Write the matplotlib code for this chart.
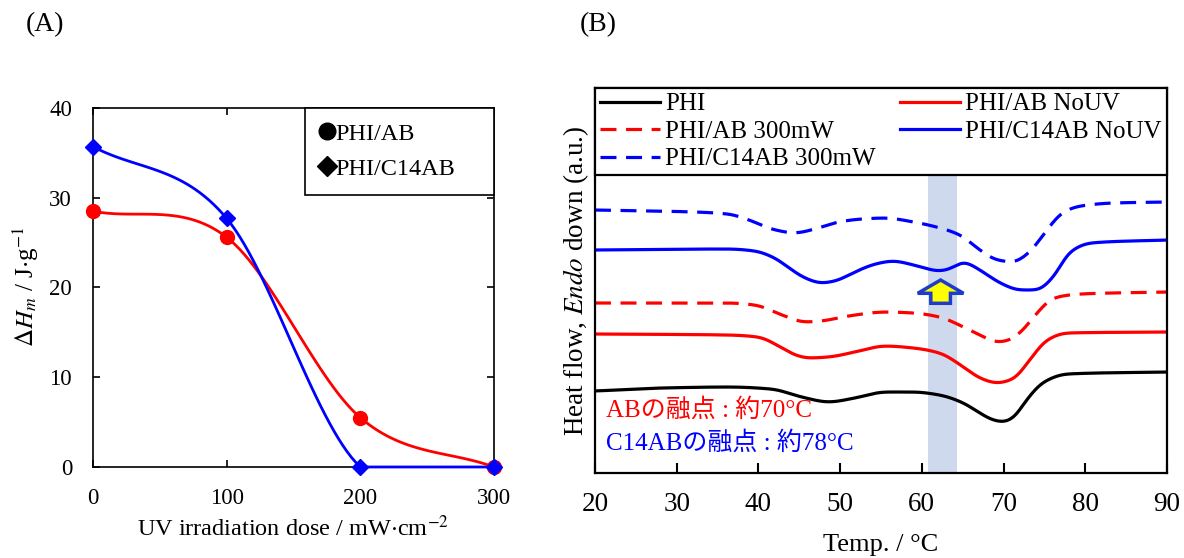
import numpy as np
import matplotlib
matplotlib.use("Agg")
import matplotlib.pyplot as plt
from matplotlib.lines import Line2D
from matplotlib.patches import FancyArrow

plt.rcParams['font.family'] = ['Liberation Serif', 'Noto Sans CJK JP', 'DejaVu Sans']
plt.rcParams['mathtext.fontset'] = 'stix'

# (A) melting enthalpy vs UV dose
dose = [0, 100, 200, 300]
dh_ab = [28.5, 25.6, 5.5, 0.0]
dh_c14ab = [35.7, 27.7, 0.0, 0.0]

# (B) DSC traces (arbitrary units)
t_phi = [20, 28.2, 36.3, 41.6, 45.3, 48.6, 51.8, 55.5, 59.0, 62.2, 65.1, 67.1, 68.7, 70.0, 71.2, 72.8, 74.9, 77.7, 90]
v_phi = [8.2, 8.5, 8.6, 8.4, 7.6, 7.1, 7.5, 8.1, 8.1, 7.8, 7.0, 6.0, 5.3, 5.1, 5.5, 7.3, 9.1, 9.9, 10.1]

t_ab0 = [20, 36.3, 40.0, 42.9, 44.5, 46.1, 48.6, 51.8, 55.5, 59.0, 62.2, 65.1, 67.1, 69.2, 71.2, 73.2, 75.3, 77.7, 90]
v_ab0 = [13.9, 13.8, 13.6, 12.5, 11.8, 11.5, 11.6, 12.1, 12.7, 12.5, 12.0, 10.6, 9.5, 9.0, 9.4, 11.3, 13.3, 14.0, 14.1]

t_ab300 = [20, 36.3, 39.6, 42.9, 45.7, 47.7, 51.0, 55.5, 59.0, 62.2, 65.1, 67.1, 69.2, 70.4, 72.0, 74.1, 76.1, 79.4, 90]
v_ab300 = [17.0, 17.0, 16.8, 15.8, 15.1, 15.2, 15.7, 16.1, 16.0, 15.6, 14.6, 13.8, 13.1, 13.2, 14.0, 16.0, 17.5, 17.9, 18.1]

t_c0 = [20, 36.3, 39.6, 42.0, 44.1, 45.7, 47.7, 49.4, 51.8, 54.3, 56.5, 59.0, 62.2, 63.4, 65.1, 67.1, 69.6, 72.0, 74.1, 76.1, 78.1, 80.6, 90]
v_c0 = [22.3, 22.4, 22.2, 21.5, 20.3, 19.5, 19.0, 19.2, 20.1, 20.9, 21.2, 20.8, 20.2, 20.4, 21.1, 20.3, 19.0, 18.3, 18.3, 19.6, 22.1, 23.0, 23.3]

t_c300 = [20, 32.2, 36.3, 39.2, 41.6, 44.5, 46.9, 49.8, 52.6, 55.5, 59.0, 61.8, 64.7, 67.1, 69.2, 71.2, 73.2, 75.3, 77.3, 79.4, 83.4, 90]
v_c300 = [26.3, 26.1, 25.9, 25.2, 24.4, 24.0, 24.4, 25.1, 25.4, 25.5, 25.1, 24.6, 23.8, 22.3, 21.3, 21.1, 22.1, 24.3, 26.1, 26.7, 27.0, 27.1]


def hermite(x, y, m, n=30):
    xs, ys = [], []
    for i in range(len(x) - 1):
        h = x[i + 1] - x[i]
        t = np.linspace(0, 1, n, endpoint=(i == len(x) - 2))
        h00 = 2 * t**3 - 3 * t**2 + 1
        h10 = t**3 - 2 * t**2 + t
        h01 = -2 * t**3 + 3 * t**2
        h11 = t**3 - t**2
        xs.append(x[i] + h * t)
        ys.append(h00 * y[i] + h10 * h * m[i] + h01 * y[i + 1] + h11 * h * m[i + 1])
    return np.concatenate(xs), np.concatenate(ys)


def smooth(x, y):
    # Excel-like smoothed line (tangents from neighbours)
    x = np.asarray(x, float)
    y = np.asarray(y, float)
    return hermite(x, y, np.gradient(y, x))


def pchip(x, y):
    # monotone cubic, no overshoot between points
    x = np.asarray(x, float)
    y = np.asarray(y, float)
    h = np.diff(x)
    d = np.diff(y) / h
    m = np.zeros_like(y)
    m[0], m[-1] = d[0], d[-1]
    for k in range(1, len(x) - 1):
        if d[k - 1] * d[k] > 0:
            w1 = 2 * h[k] + h[k - 1]
            w2 = h[k] + 2 * h[k - 1]
            m[k] = (w1 + w2) / (w1 / d[k - 1] + w2 / d[k])
    return hermite(x, y, m)


def dsc_curve(t, v, sig=0.6):
    # resample on a fine grid and soften small kinks
    xs, ys = pchip(t, v)
    grid = np.linspace(t[0], t[-1], 1401)
    yg = np.interp(grid, xs, ys)
    step = grid[1] - grid[0]
    k = np.arange(-int(4 * sig / step), int(4 * sig / step) + 1) * step
    w = np.exp(-0.5 * (k / sig) ** 2)
    w /= w.sum()
    pad = len(k) // 2
    yp = np.pad(yg, pad, mode='edge')
    return grid, np.convolve(yp, w, mode='valid')


fig = plt.figure(figsize=(11.84, 5.58), dpi=100)

fig.text(45 / 1184, 1 - 25 / 558, '(A)', ha='center', va='center', fontsize=20)
fig.text(598 / 1184, 1 - 25 / 558, '(B)', ha='center', va='center', fontsize=20)

# ---------- (A)
axA = fig.add_axes([0.0785, 0.1631, 0.3387, 0.6434])
xs, ys = smooth(dose, dh_ab)
axA.plot(xs, np.clip(ys, 0, None), color='#ff0000', lw=2.0, clip_on=False, zorder=3)
xs, ys = smooth(dose, dh_c14ab)
axA.plot(xs, np.clip(ys, 0, None), color='#0000ff', lw=2.0, clip_on=False, zorder=3)
axA.plot(dose, dh_ab, 'o', color='#ff0000', ms=10, clip_on=False, zorder=4)
axA.plot(dose, dh_c14ab, 'D', color='#0000ff', ms=8, clip_on=False, zorder=5)

axA.set_xlim(0, 300)
axA.set_ylim(0, 40)
axA.set_xticks([0, 100, 200, 300])
axA.set_yticks([0, 10, 20, 30, 40])
axA.tick_params(direction='in', top=True, right=True, length=5, width=1.2, labelsize=16.5)
axA.tick_params(axis='x', pad=15)
axA.tick_params(axis='y', pad=15)
for s in axA.spines.values():
    s.set_linewidth(1.2)
axA.set_xlabel(r'UV irradiation dose / mW$\cdot$cm$^{-2}$', fontsize=17.5, labelpad=5)
axA.set_ylabel(r'$\mathit{\Delta H_m}$ / J$\cdot$g$^{-1}$', fontsize=18, labelpad=6)

hA = [Line2D([], [], marker='o', color='k', ls='none', ms=12),
      Line2D([], [], marker='D', color='k', ls='none', ms=10)]
legA = axA.legend(hA, ['PHI/AB', 'PHI/C14AB'], loc='upper left',
                  bbox_to_anchor=(0.528, 0, 0.472, 1), mode='expand', borderaxespad=0,
                  fontsize=17.5, handlelength=0.6, handletextpad=0.05, labelspacing=0.55,
                  borderpad=0.6, fancybox=False, framealpha=1, edgecolor='k')
legA.get_frame().set_linewidth(1.2)

# ---------- (B)
axB = fig.add_axes([0.5025, 0.1523, 0.4831, 0.69])
axB.axvspan(60.8, 64.3, color='#cfd9ee', lw=0, zorder=0)
dash = (0, (5, 3))
lines = []
for t, v, c, ls, lab in [(t_phi, v_phi, 'k', '-', 'PHI'),
                         (t_ab300, v_ab300, '#ff0000', dash, 'PHI/AB 300mW'),
                         (t_c300, v_c300, '#0000ff', dash, 'PHI/C14AB 300mW'),
                         (t_ab0, v_ab0, '#ff0000', '-', 'PHI/AB NoUV'),
                         (t_c0, v_c0, '#0000ff', '-', 'PHI/C14AB NoUV')]:
    xs, ys = dsc_curve(t, v)
    ln, = axB.plot(xs, ys, color=c, ls=ls, lw=2.3, label=lab, zorder=2)
    lines.append(ln)

axB.add_patch(FancyArrow(62.3, 16.97, 0, 2.33, width=2.4, head_width=5.6, head_length=1.33,
                         length_includes_head=True, facecolor='#ffff00', edgecolor='#1f3cc8',
                         lw=2.5, zorder=4))

axB.text(21.4, 6.3, 'ABの融点 : 約70°C', color='#ff0000', fontsize=18, va='center')
axB.text(21.4, 3.0, 'C14ABの融点 : 約78°C', color='#0000ff', fontsize=18, va='center')

axB.set_xlim(20, 90)
axB.set_ylim(0, 38.5)
axB.set_xticks(range(20, 91, 10))
axB.set_yticks([])
axB.tick_params(axis='x', direction='in', length=7, width=1.5, labelsize=19.5, pad=14)
for s in axB.spines.values():
    s.set_linewidth(1.6)
axB.set_xlabel('Temp. / °C', fontsize=19, labelpad=12)
axB.set_ylabel(r'Heat flow, $\mathit{Endo}$ down (a.u.)', fontsize=19.5, labelpad=3)

legB = axB.legend(handles=lines, loc='upper left', bbox_to_anchor=(0, 0, 1, 1),
                  mode='expand', ncol=2, borderaxespad=0, fontsize=18,
                  handlelength=2.4, handletextpad=0.2, labelspacing=0.2,
                  borderpad=0.2, fancybox=False, framealpha=1, edgecolor='k')
legB.get_frame().set_linewidth(1.6)

fig.savefig('out.png', dpi=100)
